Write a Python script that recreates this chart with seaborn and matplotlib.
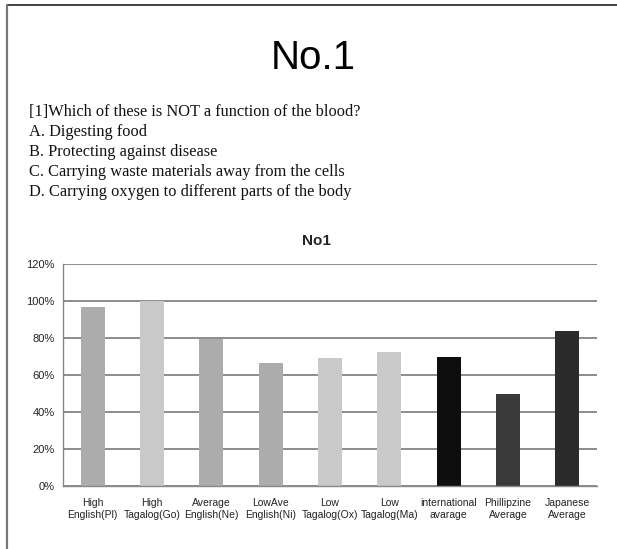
import matplotlib
matplotlib.use("Agg")
import matplotlib.pyplot as plt
from matplotlib.lines import Line2D
from matplotlib.ticker import FixedLocator, PercentFormatter
import seaborn as sns
import pandas as pd

# ---- data -------------------------------------------------------------
groups = [
    "High\nEnglish(Pl)", "High\nTagalog(Go)", "Average\nEnglish(Ne)",
    "LowAve\nEnglish(Ni)", "Low\nTagalog(Ox)", "Low\nTagalog(Ma)",
    "international\navarage", "Phillipzine\nAverage", "Japanese\nAverage",
]
correct_rate = [96.8, 100.0, 79.3, 66.7, 69.0, 72.4, 70.0, 50.0, 84.0]
bar_colors = ["#acacac", "#c9c9c9", "#acacac", "#acacac", "#c9c9c9",
              "#c9c9c9", "#0e0e0e", "#3a3a3a", "#2b2b2b"]
y_ticks = [0, 20, 40, 60, 80, 100, 120]

question = "[1]Which of these is NOT a function of the blood?"
choices = [
    "A. Digesting food",
    "B. Protecting against disease",
    "C. Carrying waste materials away from the cells",
    "D. Carrying oxygen to different parts of the body",
]

df = pd.DataFrame({"group": groups, "rate": correct_rate})

# ---- figure -----------------------------------------------------------
sns.set_theme(style="white")
plt.rcParams["font.family"] = ["Liberation Sans", "DejaVu Sans"]

W, H = 617, 549
fig = plt.figure(figsize=(W / 100, H / 100), dpi=100)
fig.patch.set_facecolor("white")

# page frame: top and left edges
fig.add_artist(Line2D([6.5 / W, 1.0], [1 - 4.5 / H, 1 - 4.5 / H],
                      transform=fig.transFigure, color="#333333", lw=1.3))
fig.add_artist(Line2D([6.5 / W, 6.5 / W], [0, 1 - 4.5 / H],
                      transform=fig.transFigure, color="#777777", lw=1.6))

# heading
fig.text(313 / W, 1 - 58 / H, "No.1", ha="center", va="center",
         fontsize=29, family=["Liberation Sans"], color="black")

# question and choices
y0 = 116
for i, line in enumerate([question] + choices):
    fig.text(29 / W, 1 - (y0 + 20 * i) / H, line, ha="left", va="baseline",
             fontsize=11.8, family=["Liberation Serif", "DejaVu Serif"],
             color="#111111")

# ---- chart ------------------------------------------------------------
left, right, top, bottom = 63, 597, 264, 486
ax = fig.add_axes([left / W, 1 - bottom / H, (right - left) / W, (bottom - top) / H])

sns.barplot(data=df, x="group", y="rate", hue="group", palette=bar_colors,
            width=0.4, legend=False, saturation=1, ax=ax, edgecolor="none")

ax.set_ylim(0, 120)
ax.set_xlim(-0.5, len(groups) - 0.5)
ax.set_yticks(y_ticks)
ax.yaxis.set_major_formatter(PercentFormatter(decimals=0))
ax.grid(axis="y", color="#6e6e6e", lw=1.1)
ax.set_axisbelow(True)
ax.set_xlabel("")
ax.set_ylabel("")

for s in ("top", "right"):
    ax.spines[s].set_visible(False)
for s in ("left", "bottom"):
    ax.spines[s].set_color("#888888")
    ax.spines[s].set_linewidth(1.0)

ax.tick_params(axis="y", length=4, width=1, color="#888888", direction="out",
               labelsize=8, pad=2, labelcolor="#222222")
ax.tick_params(axis="x", which="major", length=0, labelsize=7.5, pad=9,
               labelcolor="#222222")
ax.xaxis.set_minor_locator(FixedLocator([i - 0.5 for i in range(len(groups) + 1)]))
ax.tick_params(axis="x", which="minor", length=4, width=1, color="#888888",
               direction="out")
for lab in ax.get_xticklabels():
    lab.set_linespacing(1.25)

ax.set_title("No1", fontsize=11, fontweight="bold", pad=14, x=(316 - left) / (right - left))

fig.savefig("out.png", dpi=100, facecolor="white")
